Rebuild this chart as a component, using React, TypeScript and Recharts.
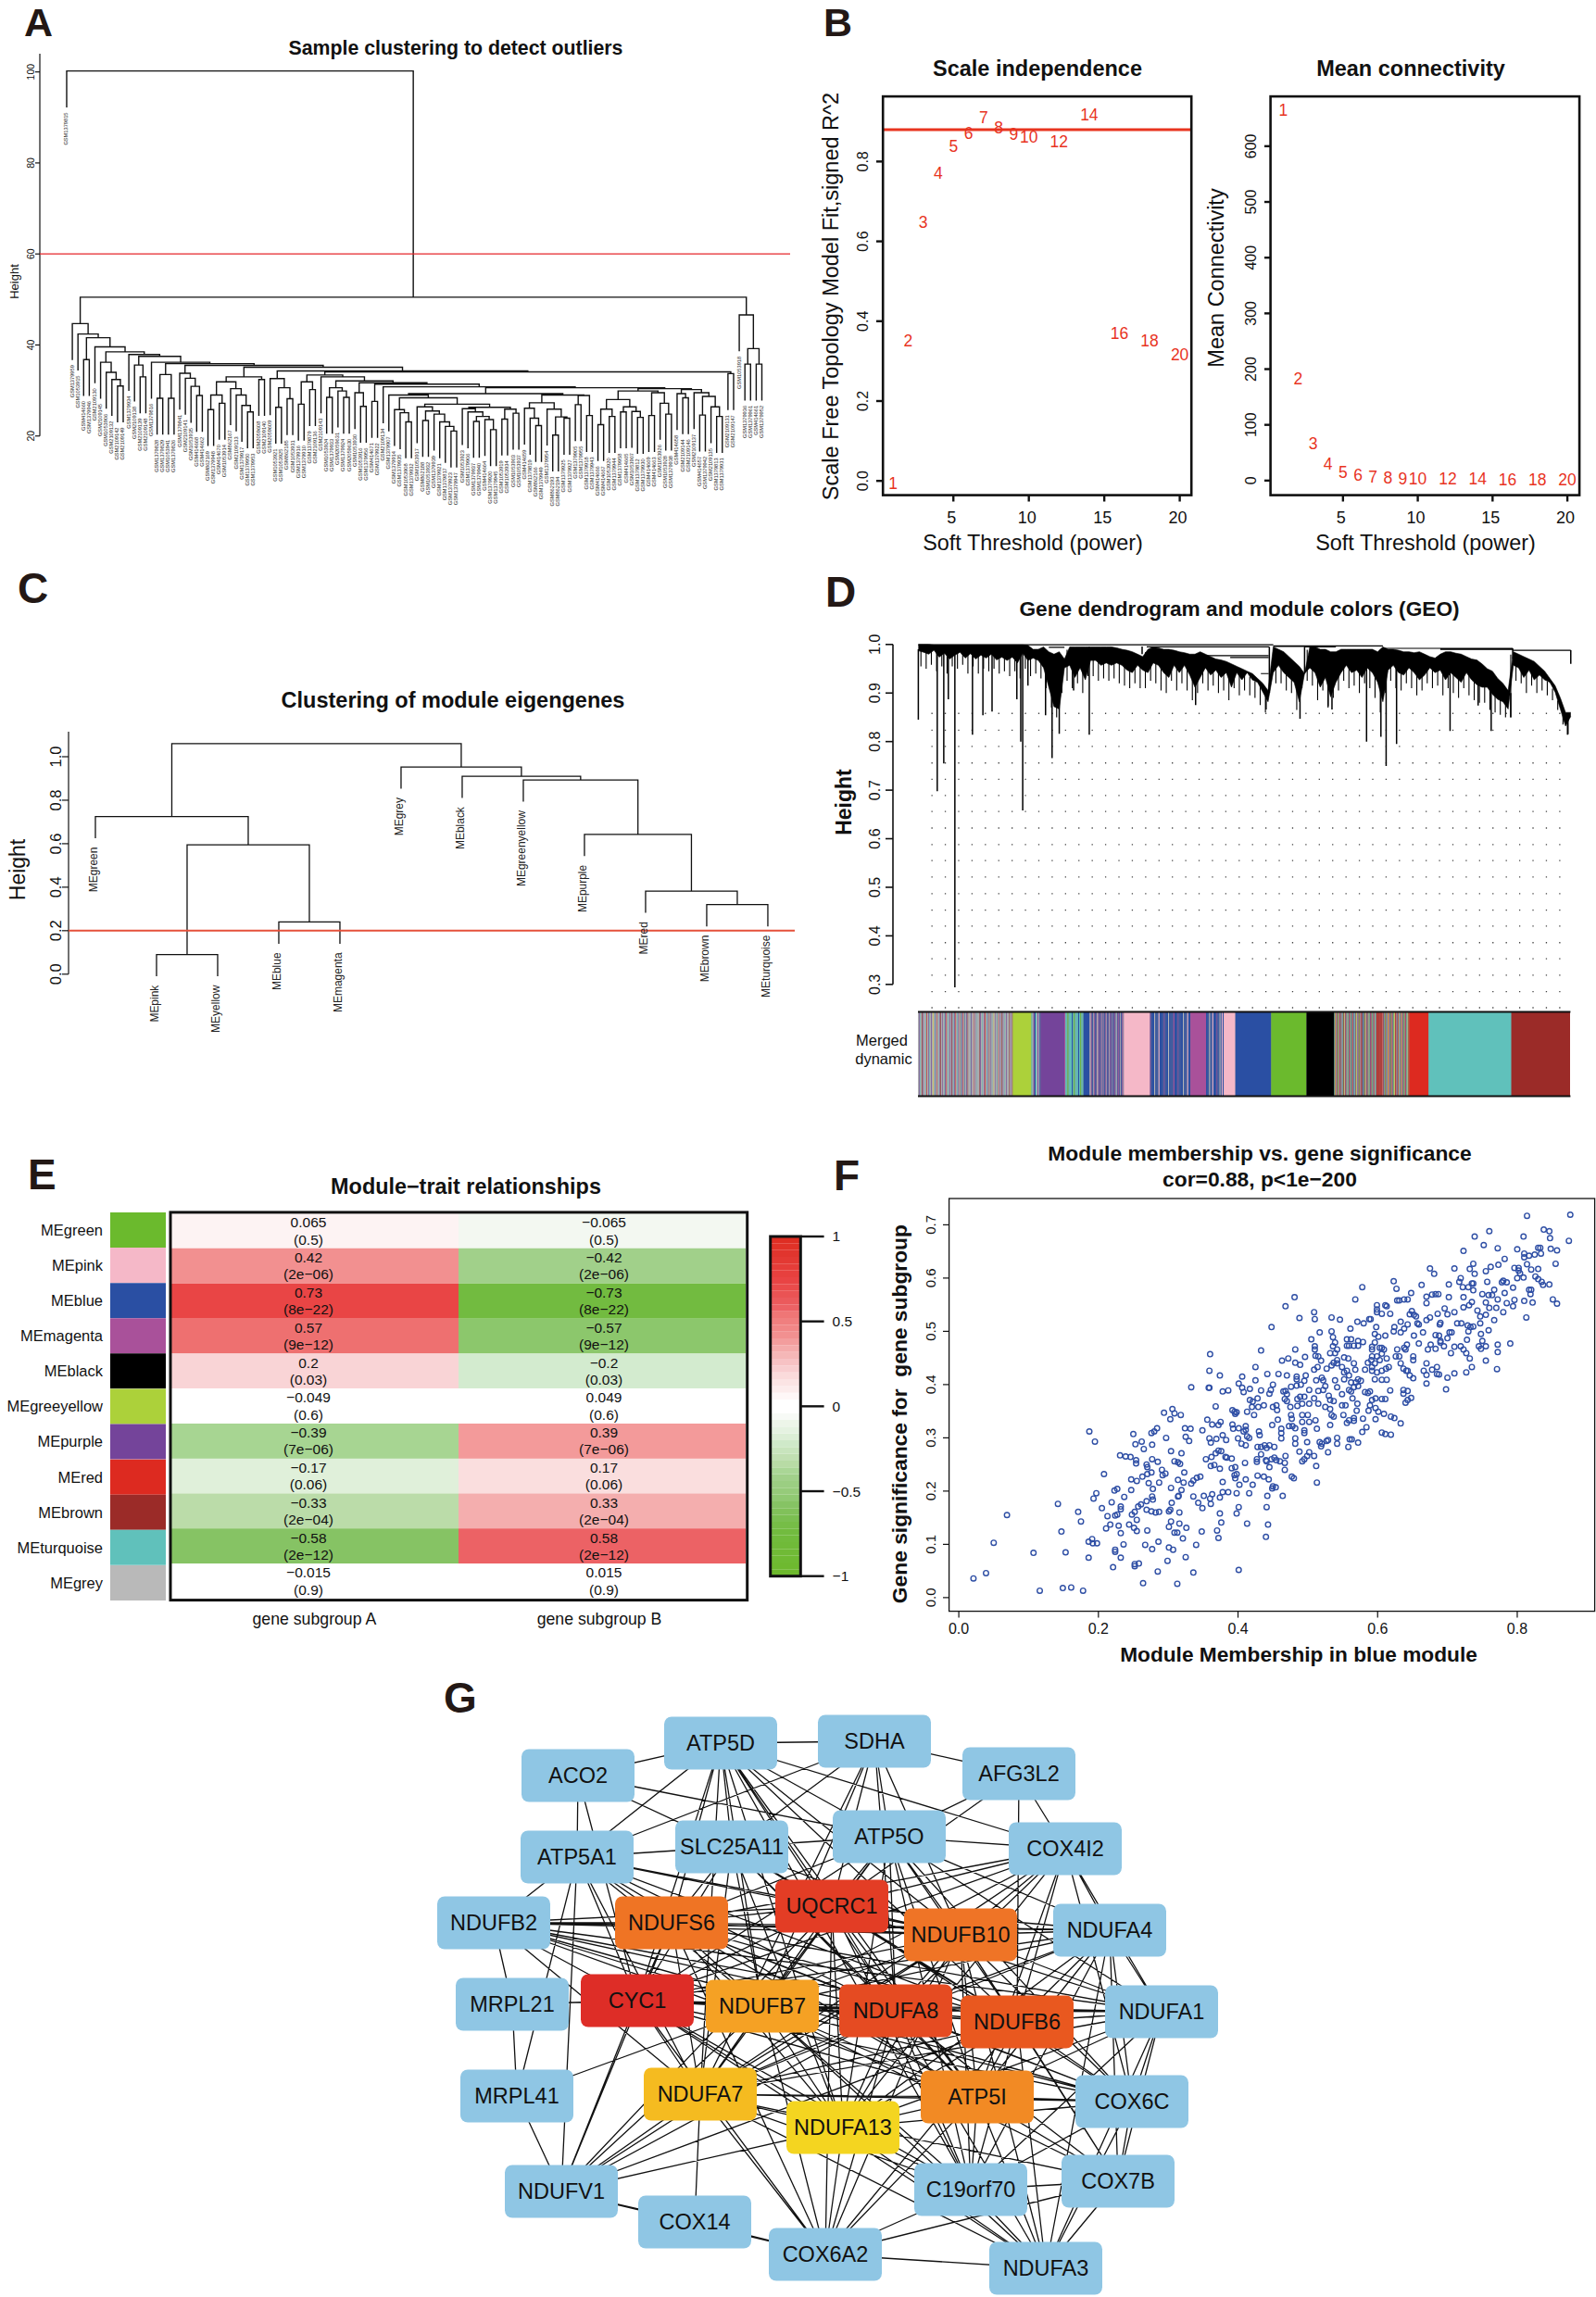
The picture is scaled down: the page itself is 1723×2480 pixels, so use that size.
import {
  Area,
  Bar,
  BarChart,
  Cell,
  ComposedChart,
  LabelList,
  Line,
  ReferenceArea,
  ReferenceLine,
  Scatter,
  ScatterChart,
  XAxis,
  YAxis,
} from "recharts";

const FONT = '"Liberation Sans", Arial, sans-serif';
const INK = "#111";
const RED = "#e8341f";

// A: sample dendrogram. Nodes are [height, left, right], leaves index into sampleLabels.
type Tree = number | [number, Tree, Tree];

const sampleLabels = [
  "GSM1379815", "GSM1379959", "GSM1053915", "GSM414660", "GSM1379946", "GSM2109130", "GSM2109145", "GSM1053906",
  "GSM2109132", "GSM2109142", "GSM2109149", "GSM1379934", "GSM2109138", "GSM2109139", "GSM2109148", "GSM1379816",
  "GSM1379828", "GSM1379829", "GSM1053941", "GSM1379826", "GSM1379841", "GSM2109141", "GSM1053935", "GSM414668",
  "GSM414662", "GSM862169", "GSM1379948", "GSM414670", "GSM1053914", "GSM862167", "GSM2109133", "GSM1379917",
  "GSM1379950", "GSM1379953", "GSM2059608", "GSM2109140", "GSM2059609", "GSM1053921", "GSM1053925", "GSM862185",
  "GSM1053931", "GSM1379916", "GSM1379910", "GSM1379879", "GSM2109136", "GSM2109143", "GSM1053924", "GSM1379933",
  "GSM2059631", "GSM1379924", "GSM2059630", "GSM1053930", "GSM1053916", "GSM1379956", "GSM414671", "GSM1379922",
  "GSM2109134", "GSM1379907", "GSM1379914", "GSM1379935", "GSM1053908", "GSM1379932", "GSM1053917", "GSM862188",
  "GSM1053932", "GSM1379939", "GSM1379921", "GSM1379817", "GSM1379923", "GSM1379947", "GSM1053923", "GSM1379906",
  "GSM1379937", "GSM1379940", "GSM414664", "GSM1379920", "GSM1379945", "GSM1053919", "GSM1053934", "GSM1053903",
  "GSM1053937", "GSM414659", "GSM1379819", "GSM862166", "GSM1379949", "GSM1379954", "GSM862193", "GSM862194",
  "GSM1379925", "GSM1379927", "GSM1379905", "GSM1379955", "GSM1379918", "GSM1379943", "GSM414666", "GSM414667",
  "GSM1053920", "GSM1379944", "GSM1379958", "GSM414665", "GSM1053907", "GSM1379812", "GSM1379930", "GSM414669",
  "GSM414663", "GSM1053926", "GSM1053928", "GSM1379938", "GSM414658", "GSM2109144", "GSM2109146", "GSM2109137",
  "GSM414657", "GSM1379942", "GSM2109135", "GSM1379813", "GSM1379931", "GSM2109131", "GSM2109147", "GSM1053918",
  "GSM1379936", "GSM1379961", "GSM414661", "GSM1379952",
];

const cladeM1: Tree = [29, 57, [28.4, [25.8, 58, [25.1, 59, [23.1, 60, 61]]], [27,
  [26.4, 62, [25.5, [23.4, 63, 64], [24.8, 65, [23.1, 66, [22.1, 67, [21.1, 68, 69]]]]]],
  [26.3, [26, 70, [25.3, 71, [24.3, [23.2, 72, 73], [23.6, 74, [21.4, 75, 76]]]]], [25.9, [23.7, 77, 78], [25, 79, 80]]]]]];
const cladeY: Tree = [27.3, [26.1, 81, [23.9, 82, [22.3, 83, 84]]], [25.9, 85, [24.2, [20.2, 86, 87], [23.9, 88, 89]]]];
const cladeX: Tree = [29, cladeY, [28.9, [26.9, 90, 91], [24.5, 92, 93]]];
const clade1201: Tree = [28, [25.9, [22.5, 94, 95], [24.3, 96, 97]], [26.4, [25.3, 98, 99], [25.4, 100, [24.1, 101, 102]]]];
const clade1279: Tree = [29.5, [24.5, 103, 104], [27.2, 105, [24.8, 106, 107]]];
const clade1344: Tree = [30.2, [29.3, 108, [28.4, 109, 110]], [29.5, 111, [28.7, [24.6, 112, 113], [26.4, 114, [24.3, 115, 116]]]]];
const cladeM: Tree = [30.6, [29.3, cladeM1, cladeX], [30.4, [29.9, clade1201, clade1279], clade1344]];
const clade907: Tree = [30.6, [28.5, 46, 47], [29.9, 48, [28.5, 49, 50]]];
const clade45: Tree = [33, 45, [32.1, clade907, [31.7, [29.5, 51, [26.5, 52, 53]], [31.4, [27.6, 54, 55], [30.8, 56, cladeM]]]]];
const cladeK: Tree = [34.1, [33.4, [31.9, [27, 41, 42], [30.2, 43, 44]], clade45], [33.7, 117, 118]];
const clade1536: Tree = [34.3, [32.6, 36, [30.6, [26.3, 37, 38], [28.2, 39, 40]]], cladeK];
const clade610: Tree = [33, [31.9, [29, [25.8, 25, 26], [27.2, 27, 28]], [30.4, 29, [29, 30, [26.7, 31, [25.3, 32, 33]]]]], [32.4, 34, 35]];
const clade420: Tree = [33.8, 20, [32.7, 21, [30.9, 22, [28.9, 23, 24]]]];
const clade500: Tree = [35.9, [33.5, [28.3, 16, 17], [28.3, 18, 19]], [35.5, clade420, [35.1, clade610, clade1536]]];
const clade288: Tree = [37.9, 11, [37.5, [35.6, 12, [33, 13, 14]], [36.2, 15, clade500]]];
const cladeLeft: Tree = [44.7, 1, [42.4, 2, [41.6, [36.8, 3, 4], [39.6, 5, [38.5, [36.2, 6, [34, 7, [32.4, 8, [31, 9, 10]]]], clade288]]]]];
const sampleTree: Tree = [100.2, 0, [50.5, cladeLeft, [46.6, 119, [39.2, [35.8, 120, 121], [35.8, 122, 123]]]]];

// C: module eigengene dendrogram
const eigengeneLabels = [
  "MEgreen", "MEpink", "MEyellow", "MEblue", "MEmagenta", "MEgrey", "MEblack", "MEgreenyellow", "MEpurple", "MEred", "MEbrown", "MEturquoise",
];
const eigengeneTree: Tree = [1.06,
  [0.725, 0, [0.595, [0.09, 1, 2], [0.24, 3, 4]]],
  [0.953, 5, [0.91, 6, [0.893, 7, [0.643, 8, [0.382, 9, [0.32, 10, 11]]]]]]];

// B: soft threshold
const powers = [1, 2, 3, 4, 5, 6, 7, 8, 9, 10, 12, 14, 16, 18, 20];
const fitIndex = [-0.007, 0.35, 0.647, 0.771, 0.837, 0.87, 0.91, 0.885, 0.868, 0.861, 0.85, 0.917, 0.369, 0.351, 0.315];
const meanConnectivity = [665, 182, 66, 29, 15, 9, 6, 4.5, 3.5, 3, 2.5, 2.5, 1.5, 1.5, 1.5];

// D: gene dendrogram. Band is [gene position, lower height, upper height], one row per 8 positions
const geneBand: [number, number, number][] = [
  [0, 0.975, 1], [8, 0.972, 1], [16, 0.968, 1], [24, 0.976, 0.999], [32, 0.962, 0.999], [40, 0.97, 0.999], [48, 0.958, 0.999], [56, 0.966, 0.999],
  [64, 0.972, 0.999], [72, 0.96, 0.999], [80, 0.969, 0.999], [88, 0.958, 0.999], [96, 0.966, 0.999], [104, 0.96, 0.999], [112, 0.968, 0.999], [120, 0.956, 0.999],
  [128, 0.962, 0.999], [136, 0.955, 0.999], [144, 0.962, 0.999], [152, 0.95, 0.999], [160, 0.97, 0.999], [168, 0.955, 0.998], [176, 0.96, 0.99], [184, 0.955, 0.99],
  [192, 0.94, 0.995], [200, 0.9, 0.985], [208, 0.86, 0.98], [216, 0.855, 0.985], [224, 0.94, 0.97], [232, 0.945, 0.995], [240, 0.92, 0.995], [248, 0.94, 0.995],
  [256, 0.915, 0.995], [264, 0.955, 0.995], [272, 0.955, 0.995], [280, 0.945, 0.995], [288, 0.95, 0.995], [296, 0.945, 0.995], [304, 0.95, 0.993], [312, 0.945, 0.99],
  [320, 0.935, 0.988], [328, 0.93, 0.985], [336, 0.945, 0.98], [344, 0.935, 0.975], [352, 0.93, 0.99], [360, 0.95, 0.995], [368, 0.945, 0.993], [376, 0.93, 0.99],
  [384, 0.92, 0.99], [392, 0.945, 0.988], [400, 0.93, 0.985], [408, 0.945, 0.983], [416, 0.925, 0.98], [424, 0.9, 0.98], [432, 0.92, 0.985], [440, 0.94, 0.98],
  [448, 0.925, 0.975], [456, 0.935, 0.97], [464, 0.92, 0.968], [472, 0.93, 0.965], [480, 0.9, 0.96], [488, 0.93, 0.955], [496, 0.915, 0.95], [504, 0.93, 0.945],
  [512, 0.915, 0.94], [520, 0.91, 0.93], [528, 0.89, 0.92], [536, 0.87, 0.905], [544, 0.93, 0.995], [552, 0.945, 0.99], [560, 0.93, 0.985], [568, 0.92, 0.975],
  [576, 0.91, 0.965], [584, 0.87, 0.955], [592, 0.93, 0.94], [600, 0.94, 0.995], [608, 0.93, 0.995], [616, 0.9, 0.99], [624, 0.92, 0.99], [632, 0.88, 0.985],
  [640, 0.91, 0.985], [648, 0.93, 0.99], [656, 0.945, 0.99], [664, 0.93, 0.99], [672, 0.935, 0.99], [680, 0.92, 0.99], [688, 0.94, 0.99], [696, 0.93, 0.99],
  [704, 0.91, 0.985], [712, 0.87, 0.995], [720, 0.935, 0.99], [728, 0.945, 0.99], [736, 0.93, 0.988], [744, 0.925, 0.985], [752, 0.94, 0.985], [760, 0.93, 0.983],
  [768, 0.915, 0.985], [776, 0.925, 0.98], [784, 0.94, 0.975], [792, 0.93, 0.972], [800, 0.935, 0.98], [808, 0.915, 0.985], [816, 0.93, 0.985], [824, 0.92, 0.982],
  [832, 0.91, 0.98], [840, 0.93, 0.975], [848, 0.915, 0.97], [856, 0.905, 0.968], [864, 0.9, 0.96], [872, 0.9, 0.95], [880, 0.885, 0.945], [888, 0.875, 0.93],
  [896, 0.87, 0.92], [904, 0.855, 0.905], [912, 0.945, 0.985], [920, 0.94, 0.98], [928, 0.92, 0.975], [936, 0.935, 0.97], [944, 0.915, 0.965], [952, 0.925, 0.955],
  [960, 0.915, 0.945], [968, 0.91, 0.93], [976, 0.89, 0.915], [984, 0.855, 0.89], [992, 0.82, 0.86], [1000, 0.84, 0.86],
];
// fine twigs between band rows: [gene position, bottom of the twig]
const geneTwigs: [number, number][] = [
  [4, 0.955], [12, 0.95], [20, 0.958], [28, 0.945], [36, 0.955], [44, 0.94], [52, 0.955], [60, 0.95], [68, 0.958], [76, 0.94], [84, 0.955], [92, 0.94],
  [100, 0.95], [108, 0.945], [116, 0.95], [124, 0.94], [132, 0.945], [140, 0.935], [148, 0.945], [156, 0.93], [164, 0.95], [172, 0.935], [180, 0.94], [188, 0.93],
  [196, 0.91], [204, 0.87], [212, 0.85], [220, 0.9], [228, 0.925], [236, 0.91], [244, 0.92], [252, 0.9], [260, 0.935], [268, 0.935], [276, 0.925], [284, 0.93],
  [292, 0.925], [300, 0.93], [308, 0.92], [316, 0.915], [324, 0.91], [332, 0.92], [340, 0.91], [348, 0.91], [356, 0.925], [364, 0.92], [372, 0.905], [380, 0.9],
  [388, 0.925], [396, 0.905], [404, 0.92], [412, 0.905], [420, 0.885], [428, 0.9], [436, 0.92], [444, 0.905], [452, 0.915], [460, 0.9], [468, 0.905], [476, 0.885],
  [484, 0.91], [492, 0.895], [500, 0.905], [508, 0.895], [516, 0.89], [524, 0.875], [532, 0.86], [548, 0.92], [556, 0.92], [564, 0.905], [572, 0.9], [580, 0.865],
  [588, 0.91], [596, 0.925], [604, 0.915], [612, 0.885], [620, 0.905], [628, 0.87], [636, 0.89], [644, 0.905], [652, 0.925], [660, 0.91], [668, 0.915], [676, 0.9],
  [684, 0.92], [692, 0.91], [700, 0.89], [708, 0.86], [716, 0.9], [724, 0.925], [732, 0.91], [740, 0.905], [748, 0.92], [756, 0.91], [764, 0.895], [772, 0.905],
  [780, 0.92], [788, 0.91], [796, 0.915], [804, 0.895], [812, 0.91], [820, 0.9], [828, 0.89], [836, 0.91], [844, 0.895], [852, 0.885], [860, 0.88], [868, 0.88],
  [876, 0.865], [884, 0.86], [892, 0.855], [900, 0.85], [908, 0.85], [916, 0.925], [924, 0.92], [932, 0.9], [940, 0.915], [948, 0.9], [956, 0.905], [964, 0.895],
  [972, 0.885], [980, 0.865], [988, 0.835], [996, 0.815],
];
// [gene position, top of the branch, bottom of the branch]
const geneBranches: [number, number, number][] = [
  [0, 0.99, 0.845], [29, 0.99, 0.698], [39, 0.99, 0.755], [46, 0.99, 0.887], [56, 0.995, 0.294], [83, 0.99, 0.814], [99, 0.99, 0.854], [113, 0.99, 0.862],
  [151, 0.99, 0.887], [157, 0.995, 0.8], [160, 0.995, 0.658], [168, 0.99, 0.915], [195, 0.985, 0.854], [205, 0.98, 0.766], [216, 0.98, 0.816], [238, 0.99, 0.905],
  [262, 0.995, 0.814], [425, 0.98, 0.875], [533, 0.9, 0.866], [585, 0.94, 0.847], [628, 0.98, 0.873], [634, 0.98, 0.866], [687, 0.98, 0.8], [709, 0.98, 0.81],
  [717, 0.99, 0.75], [733, 0.98, 0.795], [815, 0.98, 0.822], [858, 0.96, 0.874], [878, 0.94, 0.822], [908, 0.9, 0.85], [995, 0.85, 0.814],
  [538, 0.995, 0.9], [592, 0.995, 0.94], [1000, 0.988, 0.96], [911, 0.992, 0.97], [343, 0.996, 0.98],
];
// [gene position from, gene position to, height]
const geneTopLinks: [number, number, number][] = [
  [350, 538, 0.995], [440, 537, 0.977], [478, 537, 0.973], [525, 537, 0.94], [200, 224, 0.994], [544, 592, 0.996], [592, 640, 0.995], [712, 911, 0.992],
  [800, 911, 0.99], [911, 1000, 0.988], [0, 544, 0.9995], [544, 712, 0.997],
];
const dotRows = [
  0.79, 0.756, 0.7225, 0.689, 0.656, 0.622, 0.588, 0.555, 0.521, 0.487, 0.453, 0.42, 0.386, 0.353, 0.319, 0.285, 0.252, 0.8235, 0.858,
];
const moduleStripColors: Record<string, string> = {
  a: "#b9b9bb", b: "#2a4fa3", c: "#f5b8c8", d: "#a9519a", e: "#74449a", f: "#acd13a",
  g: "#6bba2d", h: "#60c1bb", i: "#dd2a20", j: "#9b2b28", k: "#000000", y: "#e8d93a",
};
// [module colour codes, total width in gene positions]
const moduleStripRuns: [string, number][] = [
  ["aaeahaajaeaaahaiaaeahaaeaayaaheaaiahaeajaaeaahaeaiaahaaeaajeahaeaiaaheaajahaeaiaehaaeajaaaaheaaaiaaeaahaaajaeaahaaeaiaaheaajaaeahaayaaeaahaiaaeaajaeaahaaeaaahiaeaaj", 145],
  ["f", 28.6], ["haebhaeab", 14], ["e", 36.3], ["dhhghhhbhghhhbhghh", 29.3], ["b", 9.3],
  ["adaebbaedbbeaadbeebadbaebbdaebebaedbeabbdeabaebdbeabbdae", 52.5], ["c", 40],
  ["ebbbabbbcbbbbebbbabbbbdbbbebbbbabbbcbb", 61.8], ["d", 24], ["bbbabbcbbbebbabcb", 27], ["c", 17.8], ["b", 54.8],
  ["g", 54], ["k", 42.5], ["hjyaeihgjaeihjaehgjyaiehjaghieajhgeaihbhajhyaeihgjaeihjbehgjyaiehjaghieajhgeaihhja", 64.8], ["jijiji", 9.3],
  ["ajehigaehjyaiehgjaiehgayjiajehigaehjyaiehgjaiehgayji", 40.9], ["i", 29.3], ["h", 126.6], ["j", 90.4],
];

// E: module-trait table
const moduleNames = ["MEgreen", "MEpink", "MEblue", "MEmagenta", "MEblack", "MEgreeyellow", "MEpurple", "MEred", "MEbrown", "MEturquoise", "MEgrey"];
const moduleColors = ["#6bba2d", "#f5b8c8", "#2a4fa3", "#a9519a", "#000000", "#acd13a", "#74449a", "#dd2a20", "#9b2b28", "#60c1bb", "#b9b9b9"];
const corSubgroupA = [0.065, 0.42, 0.73, 0.57, 0.2, -0.049, -0.39, -0.17, -0.33, -0.58, -0.015];
const corSubgroupB = [-0.065, -0.42, -0.73, -0.57, -0.2, 0.049, 0.39, 0.17, 0.33, 0.58, 0.015];
const corPValues = ["(0.5)", "(2e−06)", "(8e−22)", "(9e−12)", "(0.03)", "(0.6)", "(7e−06)", "(0.06)", "(2e−04)", "(2e−12)", "(0.9)"];
const redStops: [number, string][] = [
  [0.05, "#ffffff"], [0.065, "#fdf3f3"], [0.17, "#fadede"], [0.2, "#f9d4d6"], [0.33, "#f4aeae"], [0.39, "#f39a9a"],
  [0.42, "#f29090"], [0.57, "#ee7070"], [0.58, "#ec6265"], [0.73, "#e94545"], [1, "#dd2c20"],
];
const greenStops: [number, string][] = [
  [0.05, "#ffffff"], [0.065, "#f3f8f1"], [0.17, "#e0f0da"], [0.2, "#d3ebcf"], [0.33, "#bbdca9"], [0.39, "#a7d592"],
  [0.42, "#a1d08a"], [0.57, "#8cc76c"], [0.58, "#86c364"], [0.73, "#72bb40"], [1, "#6db92c"],
];
const colorBarLevels = [
  -0.98, -0.94, -0.9, -0.86, -0.82, -0.78, -0.74, -0.7, -0.66, -0.62, -0.58, -0.54, -0.5, -0.46, -0.42, -0.38, -0.34, -0.3, -0.26, -0.22, -0.18, -0.14, -0.1, -0.06, -0.02,
  0.02, 0.06, 0.1, 0.14, 0.18, 0.22, 0.26, 0.3, 0.34, 0.38, 0.42, 0.46, 0.5, 0.54, 0.58, 0.62, 0.66, 0.7, 0.74, 0.78, 0.82, 0.86, 0.9, 0.94, 0.98,
];

// F: membership / significance, read point by point
const blueModuleGenes: [number, number][] = [
  [.021,.036],[.039,.046],[.05,.103],[.069,.155],[.107,.084],[.116,.013],[.142,.176],[.147,.124],[.149,.018],[.153,.085],[.161,.019],[.171,.161],[.175,.143],[.178,.013],[.186,.105],[.186,.075],[.187,.312],[.191,.11],[.192,.102],[.193,.186],[.195,.293],[.198,.102],[.197,.196],
  [.205,.168],[.208,.232],[.213,.153],[.211,.13],[.217,.137],[.219,.179],[.223,.201],[.227,.204],[.221,.057],[.224,.09],[.224,.086],[.232,.075],[.236,.1],[.232,.121],[.229,.135],[.227,.156],[.224,.154],[.232,.171],[.232,.166],[.237,.189],[.231,.267],[.239,.265],[.246,.264],[.25,.307],[.253,.288],[.262,.293],[.265,.279],[.277,.287],[.276,.309],[.28,.312],[.284,.318],[.254,.258],[.254,.252],[.247,.222],[.255,.219],[.247,.202],[.263,.227],[.27,.232],[.277,.26],[.285,.255],[.269,.25],[.27,.245],[.291,.24],[.276,.235],[.296,.233],[.292,.23],[.272,.215],[.287,.216],[.278,.204],[.304,.206],[.269,.181],[.277,.19],[.278,.184],[.257,.171],[.261,.175],[.252,.161],[.248,.156],[.255,.146],[.244,.137],[.251,.131],[.255,.125],[.27,.126],[.269,.165],[.276,.162],[.282,.16],[.287,.161],[.267,.099],[.277,.091],[.286,.105],[.252,.063],[.252,.059],[.258,.064],[.285,.049],[.264,.027],[.299,.069],[.301,.094],[.307,.09],[.301,.133],[.304,.143],[.309,.122],[.313,.122],[.316,.139],[.301,.162],[.303,.165],[.316,.16],[.305,.178],[.314,.19],[.315,.191],[.336,.19],[.297,.3],[.294,.347],[.303,.335],[.306,.354],[.309,.346],[.318,.343],[.324,.318],[.332,.317],[.325,.302],[.33,.294],[.304,.275],[.319,.271],[.309,.256],[.314,.254],[.317,.251],[.323,.235],[.314,.221],[.322,.216],[.319,.202],[.333,.214],[.336,.22],[.341,.225],[.346,.227],[.333,.395],[.321,.111],[.326,.131],[.325,.076],[.336,.047],[.313,.026],[.34,.099],[.348,.124],[.343,.178],[.351,.191],[.349,.168],[.36,.186],[.361,.176],
  [.354,.26],[.362,.264],[.361,.247],[.366,.249],[.368,.271],[.372,.276],[.376,.275],[.374,.242],[.382,.264],[.384,.263],[.391,.261],[.391,.243],[.396,.245],[.395,.23],[.398,.232],[.396,.224],[.378,.217],[.402,.212],[.411,.222],[.41,.253],[.421,.212],[.398,.196],[.386,.198],[.378,.198],[.374,.188],[.363,.194],[.416,.196],[.374,.158],[.401,.17],[.398,.158],[.376,.141],[.372,.112],[.37,.126],[.413,.139],[.401,.052],[.442,.191],[.441,.17],[.443,.137],[.44,.114],[.464,.191],[.449,.205],[.454,.207],[.45,.209],[.428,.229],[.437,.227],[.444,.222],[.356,.334],[.363,.325],[.372,.324],[.375,.33],[.359,.299],[.361,.291],[.369,.298],[.349,.314],[.378,.305],[.383,.296],[.368,.359],[.359,.394],[.358,.394],[.359,.426],[.36,.457],[.374,.417],[.378,.387],[.386,.389],[.401,.402],[.406,.415],[.406,.394],[.408,.386],[.417,.392],[.425,.408],[.425,.433],[.433,.464],[.433,.389],[.442,.42],[.445,.383],[.45,.4],[.447,.39],[.392,.352],[.395,.349],[.396,.345],[.398,.348],[.413,.349],[.417,.371],[.421,.368],[.428,.374],[.42,.358],[.429,.358],[.437,.361],[.423,.343],[.392,.325],[.393,.317],[.401,.318],[.411,.322],[.411,.315],[.408,.312],[.4,.299],[.413,.303],[.416,.3],[.405,.289],[.411,.286],[.43,.312],[.431,.305],[.428,.283],[.433,.283],[.438,.286],[.445,.286],[.452,.283],[.441,.281],[.44,.258],[.448,.26],[.452,.263],[.455,.258],[.427,.26],[.427,.255],[.433,.269],[.441,.256],[.445,.245],[.46,.256],[.468,.266],[.467,.253],[.467,.24],
  [.448,.508],[.463,.445],[.472,.449],[.482,.466],[.481,.564],[.468,.547],[.488,.525],[.496,.452],[.482,.441],[.489,.437],[.458,.42],[.47,.417],[.484,.415],[.497,.417],[.495,.407],[.484,.41],[.476,.396],[.468,.388],[.465,.387],[.47,.382],[.484,.398],[.49,.4],[.467,.373],[.47,.369],[.489,.377],[.495,.377],[.502,.39],[.485,.373],[.475,.358],[.485,.36],[.492,.364],[.502,.364],[.509,.374],[.515,.364],[.455,.361],[.45,.358],[.456,.352],[.476,.343],[.492,.343],[.5,.343],[.457,.334],[.449,.324],[.462,.317],[.473,.322],[.478,.322],[.477,.336],[.462,.309],[.482,.318],[.492,.33],[.502,.33],[.511,.333],[.495,.314],[.495,.309],[.513,.317],[.462,.299],[.482,.299],[.482,.289],[.488,.274],[.499,.292],[.502,.273],[.509,.266],[.499,.266],[.495,.26],[.492,.256],[.477,.227],[.48,.224],[.512,.247],[.513,.216],[.517,.292],[.52,.289],[.519,.284],[.527,.294],[.529,.296],[.529,.273],[.509,.536],[.51,.523],[.517,.498],[.534,.5],[.534,.526],[.546,.522],[.505,.485],[.51,.472],[.51,.466],[.511,.454],[.515,.453],[.519,.445],[.509,.428],[.514,.433],[.527,.43],[.512,.408],[.52,.413],[.522,.408],[.525,.397],[.522,.39],[.515,.388],[.539,.408],[.552,.423],[.542,.395],[.53,.379],[.532,.371],[.537,.369],[.525,.358],[.532,.354],[.534,.343],[.537,.34],[.532,.324],[.549,.361],[.554,.361],[.551,.343],[.559,.333],[.566,.337],[.556,.328],[.566,.332],[.542,.3],[.542,.289],[.558,.283],[.56,.297],[.563,.297],[.572,.291],[.532,.459],[.536,.472],[.536,.489],[.539,.479],[.542,.466],[.539,.459],[.542,.446],[.537,.441],[.534,.436],[.542,.44],[.552,.451],[.558,.449],[.549,.433],[.556,.426],
  [.561,.505],[.556,.485],[.562,.485],[.556,.473],[.559,.473],[.566,.473],[.572,.482],[.572,.473],[.579,.48],[.571,.518],[.568,.56],[.578,.583],[.58,.515],[.588,.523],[.59,.523],[.598,.508],[.599,.541],[.599,.549],[.599,.536],[.606,.533],[.611,.549],[.618,.533],[.613,.547],[.596,.495],[.601,.49],[.611,.492],[.596,.479],[.592,.471],[.592,.466],[.603,.469],[.606,.469],[.609,.466],[.599,.453],[.592,.453],[.591,.446],[.586,.441],[.582,.428],[.606,.458],[.603,.446],[.613,.449],[.596,.44],[.592,.433],[.599,.423],[.606,.426],[.612,.43],[.616,.433],[.566,.44],[.568,.428],[.559,.417],[.552,.41],[.562,.404],[.569,.404],[.572,.41],[.576,.407],[.559,.39],[.566,.395],[.562,.387],[.572,.397],[.582,.386],[.589,.387],[.586,.384],[.549,.382],[.564,.374],[.592,.371],[.597,.374],[.606,.373],[.611,.373],[.618,.389],[.592,.426],[.596,.41],[.606,.409],[.613,.409],[.571,.364],[.589,.361],[.597,.356],[.601,.349],[.609,.345],[.587,.351],[.57,.351],[.579,.336],[.597,.335],[.619,.34],[.624,.337],[.633,.327],[.584,.32],[.578,.311],[.606,.31],[.611,.307],[.619,.306],
  [.623,.594],[.627,.58],[.628,.558],[.631,.558],[.638,.56],[.643,.56],[.648,.572],[.663,.587],[.67,.565],[.67,.553],[.675,.618],[.681,.608],[.678,.569],[.683,.57],[.687,.57],[.702,.588],[.702,.564],[.71,.618],[.717,.593],[.719,.6],[.723,.651],[.722,.583],[.723,.564],[.73,.583],[.737,.627],[.732,.617],[.735,.59],[.737,.59],[.739,.608],[.737,.577],[.723,.545],[.731,.549],[.735,.555],[.696,.543],[.7,.532],[.71,.536],[.714,.515],[.72,.515],[.729,.511],[.733,.508],[.737,.509],[.73,.5],[.624,.508],[.623,.5],[.633,.498],[.633,.518],[.643,.513],[.657,.515],[.659,.513],[.646,.532],[.649,.538],[.652,.531],[.655,.528],[.67,.521],[.675,.526],[.686,.533],[.69,.516],[.689,.513],[.638,.505],[.665,.498],[.652,.492],[.659,.477],[.683,.493],[.688,.492],[.69,.482],[.695,.472],[.703,.498],[.706,.498],[.7,.487],[.683,.467],[.672,.466],[.676,.475],[.69,.479],[.628,.466],[.626,.453],[.638,.469],[.642,.475],[.64,.466],[.631,.453],[.651,.453],[.651,.446],[.633,.44],[.637,.43],[.641,.426],[.643,.426],[.646,.417],[.651,.412],[.666,.426],[.67,.44],[.67,.418],[.67,.402],[.678,.428],[.685,.433],[.688,.419],[.685,.42],[.7,.413],[.698,.391],[.705,.459],[.71,.471],[.719,.472],[.723,.466],[.727,.459],[.732,.449],[.71,.421],[.727,.423],[.735,.433],[.728,.484],[.637,.39],[.643,.371],[.64,.366],[.648,.375],[.637,.383],[.643,.388],
  [.739,.678],[.752,.662],[.76,.688],[.772,.656],[.782,.636],[.773,.625],[.762,.621],[.755,.613],[.8,.654],[.814,.717],[.809,.678],[.81,.646],[.81,.639],[.817,.642],[.825,.644],[.834,.646],[.833,.657],[.83,.657],[.838,.691],[.846,.688],[.847,.675],[.848,.655],[.857,.652],[.874,.67],[.876,.719],[.855,.627],[.814,.626],[.796,.619],[.802,.619],[.802,.614],[.804,.609],[.8,.6],[.809,.601],[.82,.616],[.83,.617],[.826,.603],[.83,.598],[.835,.593],[.837,.587],[.846,.588],[.757,.593],[.778,.592],[.78,.595],[.785,.592],[.794,.582],[.782,.572],[.767,.578],[.75,.57],[.759,.568],[.764,.568],[.772,.56],[.796,.559],[.755,.554],[.785,.553],[.794,.547],[.817,.578],[.819,.57],[.82,.578],[.81,.557],[.822,.554],[.851,.56],[.857,.552],[.78,.536],[.77,.544],[.76,.544],[.743,.539],[.747,.528],[.755,.531],[.767,.521],[.747,.515],[.759,.502],[.748,.495],[.813,.526],[.75,.482],[.755,.472],[.745,.472],[.748,.467],[.772,.475],[.772,.461],[.79,.477],[.755,.445],[.771,.429],
];

// G: network
const networkGenes = [
  "ATP5D", "SDHA", "ACO2", "AFG3L2", "SLC25A11", "ATP5O", "ATP5A1", "COX4I2", "UQCRC1", "NDUFS6", "NDUFB2", "NDUFB10", "NDUFA4", "CYC1", "MRPL21",
  "NDUFB7", "NDUFA8", "NDUFB6", "NDUFA1", "MRPL41", "NDUFA7", "ATP5I", "NDUFA13", "COX6C", "COX7B", "NDUFV1", "C19orf70", "COX14", "COX6A2", "NDUFA3",
];
const networkX = [778, 944, 624, 1100, 790, 960, 623, 1150, 898, 725, 533, 1037, 1198, 688, 553, 823, 967, 1098, 1254, 558, 756, 1055, 910, 1222, 1207, 606, 1048, 750, 891, 1129];
const networkY = [1882, 1880, 1917, 1915, 1994, 1983, 2005, 1996, 2058, 2076, 2076, 2089, 2084, 2160, 2164, 2166, 2171, 2183, 2172, 2263, 2261, 2264, 2297, 2269, 2355, 2366, 2364, 2399, 2434, 2449];
const networkFill = [
  "#8fc6e4", "#8fc6e4", "#8fc6e4", "#8fc6e4", "#8fc6e4", "#8fc6e4", "#8fc6e4", "#8fc6e4", "#e33d25", "#ef7424", "#8fc6e4", "#ef7426", "#8fc6e4", "#de2d27", "#8fc6e4",
  "#f5a124", "#e54b22", "#e9581f", "#8fc6e4", "#8fc6e4", "#f5bb20", "#f28a24", "#f4d520", "#8fc6e4", "#8fc6e4", "#8fc6e4", "#8fc6e4", "#8fc6e4", "#8fc6e4", "#8fc6e4",
];
const networkLinks: number[][] = [
  [1, 2, 4, 5, 6, 7, 8, 9, 13, 15, 16, 17, 20, 21, 22, 11, 26],
  [3, 4, 5, 6, 8, 15, 16, 20, 11],
  [4, 5, 6, 13],
  [5, 7, 8, 17],
  [5, 6, 8, 9, 13, 15, 16, 20, 17, 22, 11, 21],
  [6, 7, 8, 9, 11, 13, 15, 16, 17, 18, 20, 21, 22, 23, 12, 26],
  [8, 9, 10, 11, 13, 15, 16, 17, 19, 20, 21, 25],
  [8, 9, 11, 12, 15, 16, 17, 18, 20, 21, 22, 23, 13],
  [9, 10, 11, 12, 13, 15, 16, 17, 18, 20, 21, 22, 23, 26, 28, 25],
  [10, 11, 12, 13, 15, 16, 17, 18, 20, 21, 22, 23, 25, 28],
  [11, 12, 13, 14, 15, 16, 17, 18, 21, 23, 20],
  [12, 13, 15, 16, 17, 18, 20, 21, 22, 23, 24, 26, 28, 25, 29],
  [13, 15, 16, 17, 18, 20, 21, 22, 23, 24, 26, 29],
  [14, 15, 16, 17, 18, 20, 21, 22, 23, 25, 26, 28, 29],
  [19],
  [16, 17, 18, 19, 20, 21, 22, 23, 24, 25, 26, 28, 29],
  [17, 18, 20, 21, 22, 23, 24, 25, 26, 28, 29],
  [18, 20, 21, 22, 23, 24, 25, 26, 28, 29],
  [20, 21, 22, 23, 24, 26, 29],
  [25],
  [21, 22, 23, 24, 25, 26, 27, 28, 29],
  [22, 23, 24, 25, 26, 28, 29],
  [23, 25, 26, 28, 29],
  [24, 26, 29],
  [26, 28, 29],
  [27, 28],
  [28, 29],
  [28],
  [29],
];

type Pt = { x: number; y: number | null };

function layoutTree(tree: Tree, hang: number, labels: string[]) {
  const path: Pt[] = [];
  const leaves: { x: number; y: number; label: string }[] = [];
  let next = 0;
  const walk = (node: Tree): { x: number; h: number | null } => {
    if (typeof node === "number") {
      next += 1;
      return { x: next - 1, h: null };
    }
    const [h, a, b] = node;
    const ca = walk(a);
    const cb = walk(b);
    const ends = [ca, cb].map((c) => {
      if (c.h !== null) return c.h;
      return h - hang;
    });
    if (ca.h === null) leaves.push({ x: ca.x, y: ends[0], label: labels[typeof a === "number" ? a : 0] });
    if (cb.h === null) leaves.push({ x: cb.x, y: ends[1], label: labels[typeof b === "number" ? b : 0] });
    path.push({ x: ca.x, y: ends[0] }, { x: ca.x, y: h }, { x: cb.x, y: h }, { x: cb.x, y: ends[1] }, { x: cb.x, y: null });
    return { x: (ca.x + cb.x) / 2, h };
  };
  walk(tree);
  return { path, leaves };
}

function blend(a: string, b: string, t: number) {
  const ch = (s: string, i: number) => parseInt(s.slice(1 + i * 2, 3 + i * 2), 16);
  const mix = [0, 1, 2].map((i) => Math.round(ch(a, i) + (ch(b, i) - ch(a, i)) * t));
  return `rgb(${mix.join(",")})`;
}

function corColor(v: number) {
  const stops = v >= 0 ? redStops : greenStops;
  const m = Math.abs(v);
  if (m <= stops[0][0]) return stops[0][1];
  for (let i = 1; i < stops.length; i++) {
    if (m <= stops[i][0]) {
      return blend(stops[i - 1][1], stops[i][1], (m - stops[i - 1][0]) / (stops[i][0] - stops[i - 1][0]));
    }
  }
  return stops[stops.length - 1][1];
}

const rotTick = (size: number, fmt: (v: number) => string) => (p: any) => (
  <text x={p.x} y={p.y} transform={`rotate(-90 ${p.x} ${p.y})`} textAnchor="middle" fontSize={size} fill={INK}>
    {fmt(p.payload.value)}
  </text>
);

const at = (left: number, top: number) => ({ position: "absolute" as const, left, top });

function TreeChart(props: {
  tree: Tree; labels: string[]; hang: number; left: number; top: number; right: number; bottom: number;
  xDomain: [number, number]; yDomain: [number, number]; ticks: number[]; tickSize: number; tickLen: number;
  fmt: (v: number) => string; refValue: number; refColor: string; refWidth: number; labelSize: number; labelGap: number; labelDx: number; strokeWidth: number; axisTop: number;
}) {
  const { path, leaves } = layoutTree(props.tree, props.hang, props.labels);
  const ml = props.left;
  return (
    <div style={at(0, props.top)}>
      <ComposedChart width={props.right} height={props.bottom - props.top} margin={{ top: 0, right: 0, bottom: 0, left: 0 }}>
        <XAxis type="number" dataKey="x" domain={props.xDomain} hide />
        <YAxis
          type="number"
          dataKey="y"
          width={ml}
          domain={props.yDomain}
          ticks={props.ticks}
          interval={0}
          axisLine={false}
          tickSize={props.tickLen}
          tickMargin={1}
          tickLine={{ stroke: INK, strokeWidth: 1.2 }}
          tick={rotTick(props.tickSize, props.fmt)}
        />
        <ReferenceLine
          segment={[{ x: props.xDomain[0], y: props.ticks[0] }, { x: props.xDomain[0], y: props.axisTop }]}
          stroke={INK}
          strokeWidth={1.2}
        />
        <Line data={path} dataKey="y" stroke={INK} strokeWidth={props.strokeWidth} dot={false} isAnimationActive={false} connectNulls={false} />
        <Scatter
          data={leaves}
          dataKey="y"
          isAnimationActive={false}
          shape={(p: any) => (
            <text
              x={p.cx + props.labelDx}
              y={p.cy + props.labelGap}
              transform={`rotate(-90 ${p.cx + props.labelDx} ${p.cy + props.labelGap})`}
              textAnchor="end"
              dominantBaseline="central"
              fontSize={props.labelSize}
              fill="#222"
            >
              {p.payload.label}
            </text>
          )}
        />
        <ReferenceLine y={props.refValue} stroke={props.refColor} strokeWidth={props.refWidth} />
      </ComposedChart>
    </div>
  );
}

function SoftPowerChart(props: {
  left: number; right: number; values: number[]; xDomain: [number, number]; yDomain: [number, number]; yTicks: number[];
  fmt: (v: number) => string; cutoff?: number;
}) {
  const ml = 60;
  const points = powers.map((power, i) => ({ x: power, y: props.values[i] }));
  return (
    <div style={at(props.left - ml, 104.1)}>
      <ComposedChart width={props.right - props.left + ml} height={430.5 + 45} margin={{ top: 0, right: 0, bottom: 0, left: 0 }}>
        <XAxis
          type="number"
          dataKey="x"
          domain={props.xDomain}
          ticks={[5, 10, 15, 20]}
          interval={0}
          height={45}
          axisLine={false}
          tickSize={7}
          tickMargin={11}
          tickLine={{ stroke: INK, strokeWidth: 2.4 }}
          tick={{ fontSize: 18, fill: INK, dx: -2 }}
        />
        <YAxis
          type="number"
          dataKey="y"
          width={ml}
          domain={props.yDomain}
          ticks={props.yTicks}
          interval={0}
          axisLine={false}
          tickSize={7}
          tickMargin={9}
          tickLine={{ stroke: INK, strokeWidth: 2.4 }}
          tick={rotTick(16, props.fmt)}
        />
        {props.cutoff !== undefined && <ReferenceLine y={props.cutoff} stroke={RED} strokeWidth={3} />}
        <Scatter
          data={points}
          dataKey="y"
          isAnimationActive={false}
          shape={(p: any) => (
            <text x={p.cx} y={p.cy} textAnchor="middle" dominantBaseline="central" fontSize={17.5} fill={RED}>
              {p.payload.x}
            </text>
          )}
        />
      </ComposedChart>
    </div>
  );
}

function GeneDendrogram() {
  const ml = 60;
  const bandInset = 0.012;
  const band = geneBand.map(([x, low, high]) => ({ x, band: [Math.min(low + bandInset, high), high] }));
  const lines: Pt[] = [];
  geneBranches.forEach(([x, top, bottom]) => lines.push({ x, y: top }, { x, y: bottom }, { x, y: null }));
  const twigs: Pt[] = [];
  geneTwigs.forEach(([x, bottom]) => {
    twigs.push({ x, y: geneBand[Math.round(x / 8)][2] - 0.006 }, { x, y: bottom }, { x, y: null });
  });
  const links: Pt[] = [];
  geneTopLinks.forEach(([a, b, h]) => links.push({ x: a, y: h }, { x: b, y: h }, { x: b, y: null }));
  return (
    <div style={at(963.6 - ml, 670)}>
      <ComposedChart width={1697 - 963.6 + ml} height={424.3} margin={{ top: 0, right: 0, bottom: 0, left: 0 }}>
        <XAxis type="number" dataKey="x" domain={[-38.9, 1002.3]} hide />
        <YAxis
          type="number"
          width={ml}
          domain={[0.24, 1.0492]}
          ticks={[0.3, 0.4, 0.5, 0.6, 0.7, 0.8, 0.9, 1]}
          interval={0}
          axisLine={false}
          tickSize={8}
          tickMargin={6}
          tickLine={{ stroke: INK, strokeWidth: 1.6 }}
          tick={rotTick(16, (v) => v.toFixed(1))}
        />
        <ReferenceLine segment={[{ x: -38.9, y: 0.3 }, { x: -38.9, y: 1 }]} stroke={INK} strokeWidth={1.6} />
        {dotRows.map((h) => (
          <ReferenceLine
            key={h}
            segment={[{ x: 20, y: h }, { x: 1000, y: h }]}
            stroke="#444"
            strokeWidth={1.3}
            strokeDasharray="1.3 13.12"
          />
        ))}
        <Area data={band} dataKey="band" type="linear" stroke="#000" strokeWidth={0.6} fill="#000" fillOpacity={1} dot={false} isAnimationActive={false} />
        <Line data={twigs} dataKey="y" stroke="#000" strokeWidth={1.1} dot={false} isAnimationActive={false} connectNulls={false} />
        <Line data={lines} dataKey="y" stroke="#000" strokeWidth={1.5} dot={false} isAnimationActive={false} connectNulls={false} />
        <Line data={links} dataKey="y" stroke="#000" strokeWidth={1.2} dot={false} isAnimationActive={false} connectNulls={false} />
      </ComposedChart>
    </div>
  );
}

function ModuleStrip() {
  const segments: { key: string; width: number; color: string }[] = [];
  moduleStripRuns.forEach(([codes, total]) => {
    codes.split("").forEach((code) => {
      segments.push({ key: `s${segments.length}`, width: total / codes.length, color: moduleStripColors[code] });
    });
  });
  const row: Record<string, number | string> = { name: "dynamic" };
  segments.forEach((s) => {
    row[s.key] = s.width;
  });
  const total = segments.reduce((sum, s) => sum + s.width, 0);
  return (
    <div style={{ ...at(991, 1092.4), background: "#8c8c92", height: 91 }}>
      <BarChart width={704.4} height={91} layout="vertical" data={[row]} barCategoryGap={0} margin={{ top: 0, right: 0, bottom: 0, left: 0 }}>
        <XAxis type="number" domain={[0, total]} hide />
        <YAxis type="category" dataKey="name" hide />
        {segments.map((s) => (
          <Bar key={s.key} dataKey={s.key} stackId="strip" fill={s.color} isAnimationActive={false} />
        ))}
      </BarChart>
    </div>
  );
}

function TraitHeatmap() {
  const rows = moduleNames.map((name, i) => ({
    name,
    swatch: 1,
    a: 1,
    b: 1,
    corA: corSubgroupA[i],
    corB: corSubgroupB[i],
    p: corPValues[i],
    color: moduleColors[i],
  }));
  const cellText = (key: "corA" | "corB", shift: number) => (p: any) => {
    const r = rows[p.index];
    const cx = p.x + p.width / 2 + shift;
    const cy = p.y + p.height / 2;
    return (
      <g fontSize={15.5} fill={INK} textAnchor="middle">
        <text x={cx} y={cy - 9.2} dominantBaseline="central">{String(r[key]).replace("-", "−")}</text>
        <text x={cx} y={cy + 9} dominantBaseline="central">{r.p}</text>
      </g>
    );
  };
  return (
    <>
      <div style={at(0, 1308.9)}>
        <BarChart width={179.4} height={419} layout="vertical" data={rows} barCategoryGap={0} margin={{ top: 0, right: 0, bottom: 0, left: 0 }}>
          <XAxis type="number" domain={[0, 1]} hide />
          <YAxis
            type="category"
            dataKey="name"
            width={119}
            interval={0}
            axisLine={false}
            tickLine={false}
            tickMargin={2}
            tick={{ fontSize: 16.5, fill: INK }}
          />
          <Bar dataKey="swatch" isAnimationActive={false}>
            {rows.map((r) => <Cell key={r.name} fill={r.color} />)}
          </Bar>
        </BarChart>
      </div>
      <div style={at(185, 1310)}>
        <BarChart width={620} height={416} layout="vertical" data={rows} barCategoryGap={0} margin={{ top: 0, right: 0, bottom: 0, left: 0 }}>
          <XAxis type="number" domain={[0, 2]} hide />
          <YAxis type="category" dataKey="name" hide />
          <Bar dataKey="a" stackId="cells" isAnimationActive={false}>
            {rows.map((r) => <Cell key={r.name} fill={corColor(r.corA)} />)}
            <LabelList dataKey="a" content={cellText("corA", -7)} />
          </Bar>
          <Bar dataKey="b" stackId="cells" isAnimationActive={false}>
            {rows.map((r) => <Cell key={r.name} fill={corColor(r.corB)} />)}
            <LabelList dataKey="b" content={cellText("corB", 2)} />
          </Bar>
        </BarChart>
      </div>
      <div style={at(831.7, 1325)}>
        <ComposedChart width={32.6 + 70} height={386.7} margin={{ top: 0, right: 0, bottom: 0, left: 0 }}>
          <XAxis type="number" dataKey="x" domain={[0, 1]} hide />
          <YAxis
            type="number"
            dataKey="y"
            orientation="right"
            width={70}
            domain={[-1.0545, 1.0545]}
            ticks={[-1, -0.5, 0, 0.5, 1]}
            interval={0}
            axisLine={false}
            tickSize={25}
            tickMargin={9}
            tickLine={{ stroke: INK, strokeWidth: 2.4 }}
            tick={{ fontSize: 15.5, fill: INK }}
            tickFormatter={(v: number) => String(v).replace("-", "−")}
          />
          <Line data={[{ x: 0, y: 0 }]} dataKey="y" stroke="none" dot={false} isAnimationActive={false} />
          {colorBarLevels.map((lv) => (
            <ReferenceArea key={lv} x1={0} x2={1} y1={lv - 0.02} y2={lv + 0.02} fill={corColor(lv)} fillOpacity={1} stroke="none" />
          ))}
        </ComposedChart>
      </div>
    </>
  );
}

function MembershipScatter() {
  const ml = 60;
  const points = blueModuleGenes.map(([x, y]) => ({ x, y }));
  return (
    <div style={at(1024.6 - ml, 1294)}>
      <ScatterChart width={697 + ml} height={445.6 + 40} margin={{ top: 0, right: 0, bottom: 0, left: 0 }}>
        <XAxis
          type="number"
          dataKey="x"
          domain={[-0.0134, 0.9115]}
          ticks={[0, 0.2, 0.4, 0.6, 0.8]}
          interval={0}
          height={40}
          axisLine={false}
          tickSize={7}
          tickMargin={6}
          tickLine={{ stroke: INK, strokeWidth: 1.2 }}
          tick={{ fontSize: 16, fill: INK }}
          tickFormatter={(v: number) => v.toFixed(1)}
        />
        <YAxis
          type="number"
          dataKey="y"
          width={ml}
          domain={[-0.0256, 0.7494]}
          ticks={[0, 0.1, 0.2, 0.3, 0.4, 0.5, 0.6, 0.7]}
          interval={0}
          axisLine={false}
          tickSize={7}
          tickMargin={8}
          tickLine={{ stroke: INK, strokeWidth: 1.2 }}
          tick={rotTick(15, (v) => v.toFixed(1))}
        />
        <Scatter
          data={points}
          isAnimationActive={false}
          shape={(p: any) => <circle cx={p.cx} cy={p.cy} r={2.8} fill="none" stroke="#2f4fa5" strokeWidth={1.4} />}
        />
      </ScatterChart>
    </div>
  );
}

function GeneNetwork() {
  const nodes = networkGenes.map((name, i) => ({ x: networkX[i], y: networkY[i], name, fill: networkFill[i] }));
  const edges: Pt[] = [];
  networkLinks.forEach((targets, i) => {
    targets.forEach((t) => {
      edges.push({ x: networkX[i], y: networkY[i] }, { x: networkX[t], y: networkY[t] }, { x: networkX[t], y: null });
    });
  });
  return (
    <div style={at(460, 1810)}>
      <ComposedChart width={880} height={670} margin={{ top: 0, right: 0, bottom: 0, left: 0 }}>
        <XAxis type="number" dataKey="x" domain={[460, 1340]} hide />
        <YAxis type="number" dataKey="y" domain={[1810, 2480]} reversed hide />
        <Line data={edges} dataKey="y" stroke="#111" strokeWidth={1.3} dot={false} isAnimationActive={false} connectNulls={false} />
        <Scatter
          data={nodes}
          dataKey="y"
          isAnimationActive={false}
          shape={(p: any) => (
            <g>
              <rect x={p.cx - 61} y={p.cy - 28.5} width={122} height={57} rx={8} fill={p.payload.fill} />
              <text x={p.cx} y={p.cy} textAnchor="middle" dominantBaseline="central" fontSize={23.5} fill="#111">
                {p.payload.name}
              </text>
            </g>
          )}
        />
      </ComposedChart>
    </div>
  );
}

// letter, x, baseline y, size
const panelLetters: [string, number, number, number][] = [
  ["A", 26, 39, 43], ["B", 889, 39, 43], ["C", 19, 651, 46], ["D", 891, 655, 46], ["E", 30, 1284, 46], ["F", 900, 1285, 46], ["G", 479, 1849, 46],
];
// text, x, y, size, bold, rotated
const captions: [string, number, number, number, boolean, boolean][] = [
  ["Sample clustering to detect outliers", 492, 52, 21.3, true, false],
  ["Height", 15, 304, 13, false, true],
  ["Scale independence", 1120, 73.5, 23.5, true, false],
  ["Mean connectivity", 1523, 73.5, 23.5, true, false],
  ["Scale Free Topology Model Fit,signed R^2", 897, 320, 23.5, false, true],
  ["Mean Connectivity", 1313.4, 300, 23.5, false, true],
  ["Soft Threshold (power)", 1115, 586, 23.4, false, false],
  ["Soft Threshold (power)", 1539, 586, 23.4, false, false],
  ["Clustering of module eigengenes", 489, 756, 23.5, true, false],
  ["Height", 19.4, 939, 23, false, true],
  ["Gene dendrogram and module colors (GEO)", 1338, 657, 22.7, true, false],
  ["Height", 911, 866, 23, true, true],
  ["Merged", 952, 1123, 16.5, false, false],
  ["dynamic", 954, 1143, 16.5, false, false],
  ["Module−trait relationships", 503, 1281, 23.4, true, false],
  ["gene subgroup A", 339.4, 1748, 17.7, false, false],
  ["gene subgroup B", 647, 1748, 17.7, false, false],
  ["Module membership vs. gene significance", 1360, 1245, 22.8, true, false],
  ["cor=0.88, p<1e−200", 1360, 1273, 22.8, true, false],
  ["Module Membership in blue module", 1402, 1786, 22.7, true, false],
  ["Gene significance for  gene subgroup", 971.5, 1526.6, 22.8, true, true],
];
// x, y, width, height, stroke width
const frames: [number, number, number, number, number][] = [
  [953.2, 104.1, 333, 430.5, 2.6],
  [1371.6, 104.1, 333.5, 430.5, 2.6],
  [184, 1308.9, 622.7, 418.7, 3],
  [831.7, 1335, 32.6, 366.7, 3],
  [1024.6, 1294, 697, 445.6, 1.3],
];

function Overlay() {
  return (
    <svg width={1723} height={2480} style={{ position: "absolute", left: 0, top: 0, pointerEvents: "none" }}>
      {frames.map(([x, y, w, h, sw]) => (
        <rect key={`${x}-${y}`} x={x} y={y} width={w} height={h} fill="none" stroke={INK} strokeWidth={sw} />
      ))}
      <line x1={991} x2={1695.4} y1={1092.4} y2={1092.4} stroke={INK} strokeWidth={2} />
      <line x1={991} x2={1695.4} y1={1183.4} y2={1183.4} stroke={INK} strokeWidth={2} />
      {panelLetters.map(([s, x, y, size]) => (
        <text key={s} x={x} y={y} fontSize={size} fontWeight="bold" fill="#231815">{s}</text>
      ))}
      {captions.map(([s, x, y, size, bold, rotated]) => (
        <text
          key={`${s}-${x}`}
          x={x}
          y={y}
          fontSize={size}
          fontWeight={bold ? "bold" : "normal"}
          textAnchor="middle"
          dominantBaseline="central"
          fill={INK}
          transform={rotated ? `rotate(-90 ${x} ${y})` : undefined}
          xmlSpace="preserve"
        >
          {s}
        </text>
      ))}
    </svg>
  );
}

export default function App() {
  return (
    <div style={{ position: "absolute", left: 0, top: 0, width: 1723, height: 2480, background: "#fff", fontFamily: FONT, overflow: "hidden" }}>
      <TreeChart
        tree={sampleTree}
        labels={sampleLabels}
        hang={8}
        left={43}
        right={853}
        top={57.5}
        bottom={568.5}
        xDomain={[-4.75, 128]}
        yDomain={[0, 104]}
        ticks={[20, 40, 60, 80, 100]}
        tickSize={10.5}
        tickLen={5}
        fmt={(v) => String(v)}
        refValue={60}
        refColor="#e5262a"
        refWidth={1.2}
        labelSize={5.7}
        labelGap={5.5}
        labelDx={-0.5}
        strokeWidth={1.4}
        axisTop={104}
      />
      <TreeChart
        tree={eigengeneTree}
        labels={eigengeneLabels}
        hang={0.1}
        left={74}
        right={858}
        top={790}
        bottom={1145.7}
        xDomain={[-0.439, 11.44]}
        yDomain={[-0.4, 1.115]}
        ticks={[0, 0.2, 0.4, 0.6, 0.8, 1]}
        tickSize={16.5}
        tickLen={7}
        fmt={(v) => v.toFixed(1)}
        refValue={0.2}
        refColor="#e5503a"
        refWidth={2}
        labelSize={12}
        labelGap={9.5}
        labelDx={-1.5}
        strokeWidth={1.3}
        axisTop={1.115}
      />
      <SoftPowerChart
        left={953.2}
        right={1286.2}
        values={fitIndex}
        xDomain={[0.32, 20.76]}
        yDomain={[-0.0355, 0.9633]}
        yTicks={[0, 0.2, 0.4, 0.6, 0.8]}
        fmt={(v) => v.toFixed(1)}
        cutoff={0.88}
      />
      <SoftPowerChart
        left={1371.6}
        right={1705.1}
        values={meanConnectivity}
        xDomain={[0.18, 20.83]}
        yDomain={[-26, 689.5]}
        yTicks={[0, 100, 200, 300, 400, 500, 600]}
        fmt={(v) => String(v)}
      />
      <GeneDendrogram />
      <ModuleStrip />
      <TraitHeatmap />
      <MembershipScatter />
      <GeneNetwork />
      <Overlay />
    </div>
  );
}
